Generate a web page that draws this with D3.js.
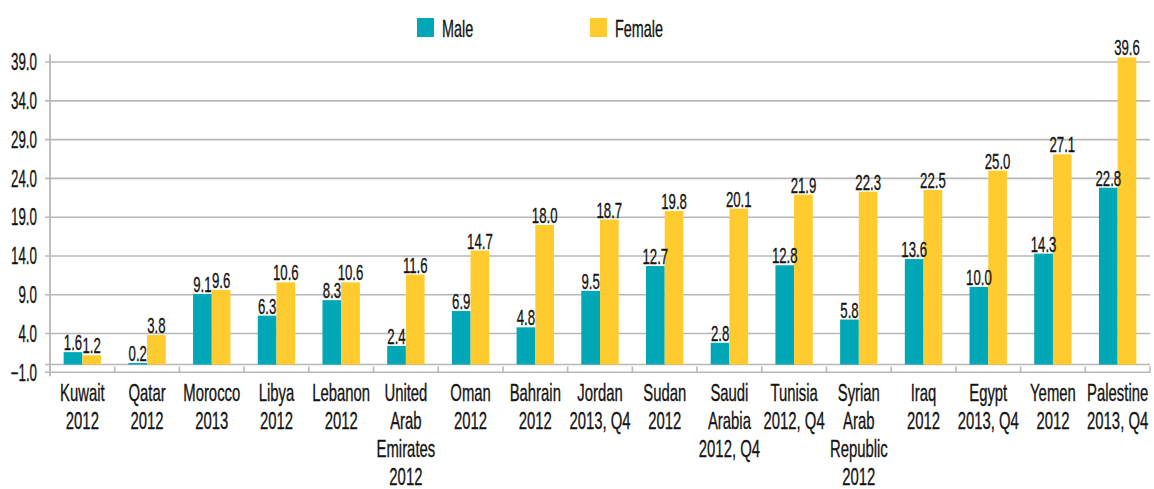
<!DOCTYPE html>
<html>
<head>
<meta charset="utf-8">
<script src="https://cdn.jsdelivr.net/npm/d3@7"></script>
<style>
  html, body { margin: 0; padding: 0; background: #fff; }
  svg text { font-family: "Liberation Sans", Arial, sans-serif; fill: #141414; stroke: #141414; stroke-width: 0.35px; }
</style>
</head>
<body>
<svg id="chart" width="1154" height="489"></svg>
<script>
// Unemployment rate by sex, Arab countries (latest year)
const categories = [
  "Kuwait\n2012", "Qatar\n2012", "Morocco\n2013", "Libya\n2012", "Lebanon\n2012",
  "United\nArab\nEmirates\n2012", "Oman\n2012", "Bahrain\n2012", "Jordan\n2013, Q4",
  "Sudan\n2012", "Saudi\nArabia\n2012, Q4", "Tunisia\n2012, Q4",
  "Syrian\nArab\nRepublic\n2012", "Iraq\n2012", "Egypt\n2013, Q4", "Yemen\n2012",
  "Palestine\n2013, Q4"
];
const male   = [1.6, 0.2, 9.1, 6.3, 8.3, 2.4, 6.9, 4.8, 9.5, 12.7, 2.8, 12.8, 5.8, 13.6, 10.0, 14.3, 22.8];
const female = [1.2, 3.8, 9.6, 10.6, 10.6, 11.6, 14.7, 18.0, 18.7, 19.8, 20.1, 21.9, 22.3, 22.5, 25.0, 27.1, 39.6];
const seriesNames = ["Male", "Female"];
const yTicks = [-1, 4, 9, 14, 19, 24, 29, 34, 39];

const colors = { Male: "#00a7b6", Female: "#ffcb2f" };
// horizontal squeeze factors for the condensed lettering
const SX_CAT = 0.62, SX_VAL = 0.6, SX_TICK = 0.58, SX_LEG = 0.6;
const gridColor = "#b8b8b8";

const svg = d3.select("#chart");
const left = 50, right = 1150;

const x0 = d3.scaleBand().domain(categories).range([left, right]).padding(0);
const x1 = d3.scaleBand().domain(seriesNames).range([0, x0.bandwidth()])
  .paddingInner(0).paddingOuter(0.73);
const y = d3.scaleLinear().domain([-1, 40]).range([372.3, 54.3]);

const rows = categories.map((c, i) => ({ cat: c, Male: male[i], Female: female[i] }));

// horizontal gridlines (value ticks and the zero line)
svg.append("g").selectAll("line")
  .data(yTicks.filter(t => t > -1).concat([0]))
  .join("line")
  .attr("x1", left - 5).attr("x2", right)
  .attr("y1", d => y(d)).attr("y2", d => y(d))
  .attr("stroke", gridColor).attr("stroke-width", 1.6);

// category axis at the bottom of the value range
svg.append("line")
  .attr("x1", left - 5).attr("x2", right)
  .attr("y1", y(-1)).attr("y2", y(-1))
  .attr("stroke", gridColor).attr("stroke-width", 1.6);

// category separator ticks
const bounds = categories.map(c => x0(c)).concat([right]);
svg.append("g").selectAll("line").data(bounds).join("line")
  .attr("x1", d => d).attr("x2", d => d)
  .attr("y1", y(0) + 2).attr("y2", y(-1))
  .attr("stroke", gridColor).attr("stroke-width", 1.6);

// value axis line
svg.append("line")
  .attr("x1", left).attr("x2", left)
  .attr("y1", y(40)).attr("y2", y(-1) + 4)
  .attr("stroke", gridColor).attr("stroke-width", 1.8);

// value axis labels
svg.append("g").selectAll("text").data(yTicks).join("text")
  .attr("transform", d => `translate(37,${y(d)}) scale(${SX_TICK},1)`)
  .attr("text-anchor", "end").attr("dy", "0.36em")
  .attr("font-size", 23)
  .text(d => d3.format(".1f")(d));

// bars
const groups = svg.append("g").selectAll("g").data(rows).join("g")
  .attr("transform", d => `translate(${x0(d.cat)},0)`);

groups.selectAll("rect")
  .data(d => seriesNames.map(k => ({ key: k, value: d[k] })))
  .join("rect")
  .attr("x", d => x1(d.key))
  .attr("width", x1.bandwidth())
  .attr("y", d => y(d.value))
  .attr("height", d => y(0) - y(d.value))
  .attr("fill", d => colors[d.key]);

// value labels on top of each bar
groups.selectAll("text.val")
  .data(d => seriesNames.map(k => ({ key: k, value: d[k] })))
  .join("text")
  .attr("class", "val")
  .attr("transform", d => `translate(${x1(d.key) + x1.bandwidth() / 2},${y(d.value) - 2}) scale(${SX_VAL},1)`)
  .attr("text-anchor", "middle")
  .attr("font-size", 22)
  .text(d => d3.format(".1f")(d.value));

// category labels, one text line per row
const catG = svg.append("g").selectAll("g").data(categories).join("g")
  .attr("transform", c => `translate(${x0(c) + x0.bandwidth() / 2},0)`);
catG.selectAll("text")
  .data(c => c.split("\n"))
  .join("text")
  .attr("transform", (d, i) => `translate(0,${400.5 + i * 28}) scale(${SX_CAT},1)`)
  .attr("text-anchor", "middle")
  .attr("font-size", 24)
  .text(d => d);

// legend
const legendX = { Male: 417, Female: 590 };
const lg = svg.append("g").selectAll("g").data(seriesNames).join("g")
  .attr("transform", d => `translate(${legendX[d]},18)`);
lg.append("rect").attr("width", 17).attr("height", 19).attr("fill", d => colors[d]);
lg.append("text")
  .attr("transform", `translate(25,18.5) scale(${SX_LEG},1)`)
  .attr("font-size", 24)
  .text(d => d);
</script>
</body>
</html>
